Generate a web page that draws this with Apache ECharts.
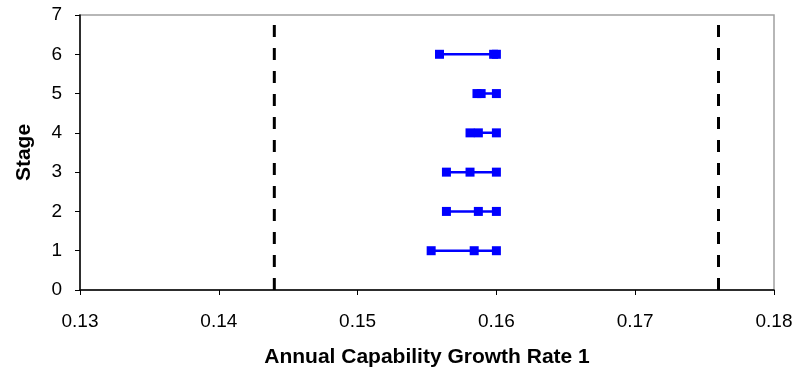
<!DOCTYPE html>
<html>
<head>
<meta charset="utf-8">
<script src="https://cdn.jsdelivr.net/npm/echarts@6/dist/echarts.min.js"></script>
<style>
  html, body { margin: 0; padding: 0; background: #fff; }
  #chart { width: 807px; height: 373px; }
</style>
</head>
<body>
<div id="chart"></div>
<script>
// Stages on the vertical axis
const stages = [1, 2, 3, 4, 5, 6];
// Growth-rate estimates per stage: lowest, middle and highest value
const lowValues  = [0.1553, 0.1564, 0.1564, 0.1581, 0.1586, 0.1559];
const midValues  = [0.1584, 0.1587, 0.1581, 0.1587, 0.1589, 0.1598];
const highValues = [0.1600, 0.1600, 0.1600, 0.1600, 0.1600, 0.1600];
// Bounds drawn as dashed vertical lines
const limitValues = [0.144, 0.176];
// Axis ranges
const xTicks = { min: 0.13, max: 0.18, step: 0.01 };
const yTicks = { min: 0, max: 7, step: 1 };

const FONT = '"Liberation Sans", Arial, sans-serif';

const series = [];
stages.forEach((s, i) => {
  series.push({
    type: 'line',
    name: 'Stage ' + s,
    data: [[lowValues[i], s], [midValues[i], s], [highValues[i], s]],
    symbol: 'rect',
    symbolSize: 9,
    showAllSymbol: true,
    lineStyle: { color: '#0000ff', width: 2.5 },
    itemStyle: { color: '#0000ff' },
    animation: false,
    z: 3
  });
});
limitValues.forEach((v) => {
  series.push({
    type: 'line',
    data: [[v, yTicks.min], [v, yTicks.max]],
    symbol: 'none',
    lineStyle: { color: '#000', width: 3, type: [12, 11] },
    animation: false,
    z: 2
  });
});

const chart = echarts.init(document.getElementById('chart'), null, { renderer: 'canvas' });
chart.setOption({
  backgroundColor: '#fff',
  animation: false,
  grid: {
    left: 80, right: 33, top: 15, bottom: 83,
    show: true, borderColor: '#a0a0a0', borderWidth: 1.5, backgroundColor: 'transparent'
  },
  xAxis: {
    type: 'value',
    min: xTicks.min, max: xTicks.max, interval: xTicks.step,
    name: 'Annual Capability Growth Rate 1',
    nameLocation: 'middle',
    nameGap: 57,
    nameTextStyle: { fontFamily: FONT, fontWeight: 'bold', fontSize: 21, color: '#000' },
    axisLine: { show: true, onZero: false, lineStyle: { color: '#000', width: 1.5 } },
    axisTick: { show: true, length: 5, lineStyle: { color: '#000' } },
    axisLabel: {
      margin: 22, fontFamily: FONT, fontSize: 19, color: '#000',
      formatter: (v) => v.toFixed(2)
    },
    splitLine: { show: false }
  },
  yAxis: {
    type: 'value',
    min: yTicks.min, max: yTicks.max, interval: yTicks.step,
    name: 'Stage',
    nameLocation: 'middle',
    nameGap: 45,
    nameRotate: 90,
    nameTextStyle: { fontFamily: FONT, fontWeight: 'bold', fontSize: 21, color: '#000' },
    axisLine: { show: true, onZero: false, lineStyle: { color: '#000', width: 1.5 } },
    axisTick: { show: true, length: 5, lineStyle: { color: '#000' } },
    axisLabel: { margin: 18, fontFamily: FONT, fontSize: 19, color: '#000' },
    splitLine: { show: false }
  },
  series: series
});
</script>
</body>
</html>
